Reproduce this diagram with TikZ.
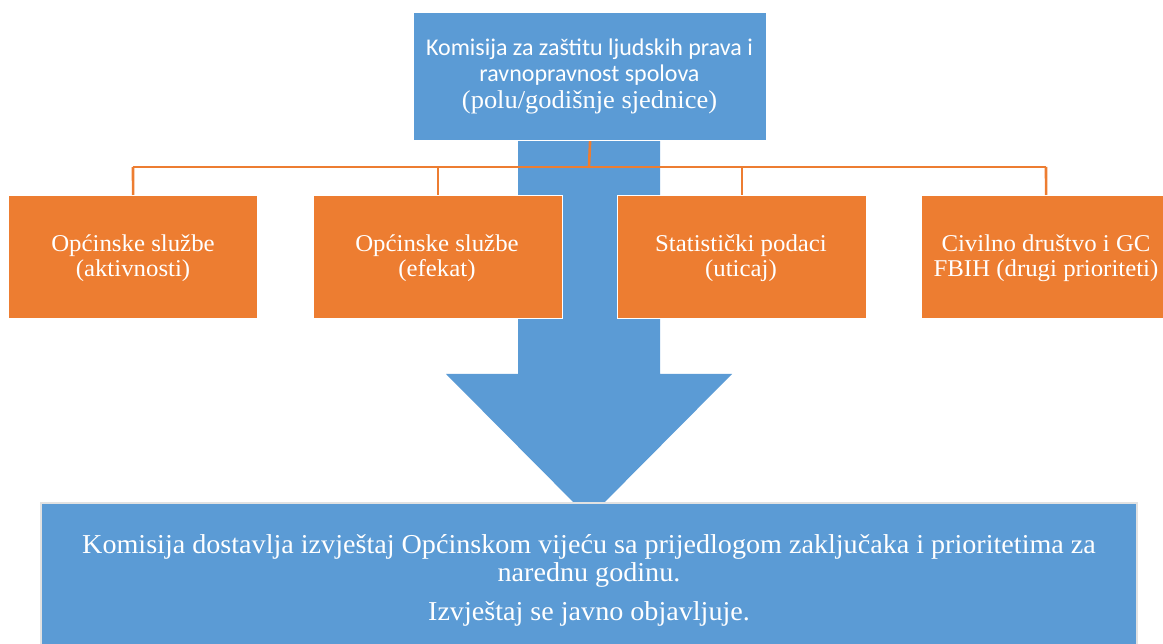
\documentclass[tikz,border=0pt]{standalone}
\usepackage{fontspec}
\setmainfont{Liberation Serif}
\newfontfamily\camfont[FakeStretch=1.03]{Liberation Serif}
\newfontfamily\calfont{Carlito}
\definecolor{boxblue}{HTML}{5B9BD5}
\definecolor{boxorange}{HTML}{ED7D31}
\definecolor{edgegray}{HTML}{E2E2E2}
\tikzset{
  bluebox/.style={fill=boxblue, draw=white, line width=1.2pt, anchor=north west, inner sep=0pt},
  orangebox/.style={fill=boxorange, draw=white, line width=1.2pt,
    minimum width=249pt, minimum height=123pt, inner sep=0pt, anchor=north west},
  conn/.style={draw=boxorange, line width=2.6pt},
  lbl/.style={text=white, anchor=base, inner sep=0pt},
  toptxt/.style={lbl, font=\calfont\fontsize{24}{26}\selectfont},
  topser/.style={lbl, font=\camfont\fontsize{25.7}{27}\selectfont},
  orgtxt/.style={lbl, font=\camfont\fontsize{24.1}{26}\selectfont},
  bottxt/.style={lbl, font=\camfont\fontsize{27.3}{29}\selectfont},
}
\begin{document}
\begin{tikzpicture}[x=1pt,y=-1pt]
\useasboundingbox (0,0) rectangle (1163,644);
% big arrow
\fill[boxblue] (518,141) -- (660,141) -- (660,374) -- (732,374) -- (589,518)
  -- (446,374) -- (518,374) -- cycle;
% top box
\node[bluebox, minimum width=353pt, minimum height=128pt] (top) at (413,12) {};
\node[toptxt] (t1) at (589.5,56) {Komisija za zaštitu ljudskih prava i};
\node[toptxt] (t2) at (589.5,82) {ravnopravnost spolova};
\node[topser] (t3) at (589.5,109) {(polu/godišnje sjednice)};
% connectors
\coordinate (hub) at (589,167);
\coordinate (hl) at (133,167);
\coordinate (hr) at (1046,167);
% orange boxes
\node[orangebox] (b1) at (8,195) {};
\node[orangebox] (b2) at (313,195) {};
\node[orangebox] (b3) at (617,195) {};
\node[orangebox] (b4) at (921,195) {};
\node[orgtxt] (b1a) at (133,252) {Općinske službe};
\node[orgtxt] (b1b) at (133,277) {(aktivnosti)};
\node[orgtxt] (b2a) at (437,252) {Općinske službe};
\node[orgtxt] (b2b) at (437,277) {(efekat)};
\node[orgtxt] (b3a) at (741,252) {Statistički podaci};
\node[orgtxt] (b3b) at (741,277) {(uticaj)};
\node[orgtxt] (b4a) at (1046,252) {Civilno društvo i GC};
\node[orgtxt] (b4b) at (1046,277) {FBIH (drugi prioriteti)};
\draw[conn] (top.south) -- (hub);
\draw[conn] (hl) -- (hr);
\draw[conn] (hl) -- (b1.north);
\draw[conn] (b2.north |- hub) -- (b2.north);
\draw[conn] (b3.north |- hub) -- (b3.north);
\draw[conn] (hr) -- (b4.north);
% bottom box
\node[fill=boxblue, draw=edgegray, line width=2pt, anchor=north west, minimum width=1096pt,
  minimum height=160pt, inner sep=0pt] (bot) at (40,502) {};
\node[bottxt] (l1) at (589,553) {Komisija dostavlja izvještaj Općinskom vijeću sa prijedlogom zaključaka i prioritetima za};
\node[bottxt] (l2) at (589,581) {narednu godinu.};
\node[bottxt] (l3) at (589,620) {Izvještaj se javno objavljuje.};
\end{tikzpicture}
\end{document}
